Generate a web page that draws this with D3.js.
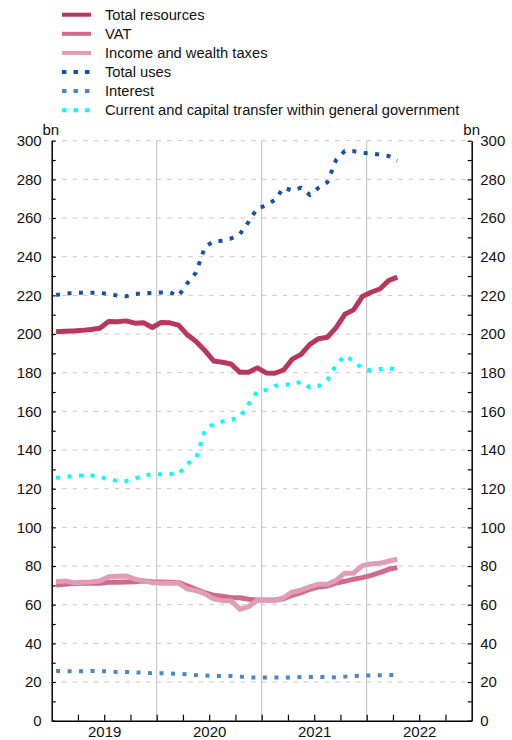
<!DOCTYPE html>
<html><head><meta charset="utf-8">
<script src="https://cdn.jsdelivr.net/npm/d3@7"></script>
<style>
html,body{margin:0;padding:0;background:#fff;}
svg{display:block;font-family:"Liberation Sans",Arial,sans-serif;}
</style></head>
<body><svg id="chart" width="512" height="740"></svg>
<script>
// Monthly observations, Jan 2019 .. Apr 2022 (index 0..39), EUR bn
const months = d3.range(40);
const totalResources = [201.2,201.4,201.6,201.9,202.4,203.0,206.5,206.3,206.8,205.6,205.8,203.4,206.0,205.8,204.6,199.6,196.1,191.5,186.1,185.4,184.5,180.2,180.2,182.5,179.9,179.7,181.4,187.0,189.5,194.7,197.6,198.3,203.3,210.2,212.5,219.4,221.6,223.3,227.6,229.4];
const vat = [70.2,70.6,70.9,71.1,71.1,71.1,71.6,71.6,71.8,71.9,72.3,71.9,71.8,71.6,71.4,69.7,68.0,66.2,64.9,64.4,63.6,63.6,62.8,62.4,62.4,62.4,63.1,64.9,66.2,68.0,69.2,69.7,71.2,72.1,73.2,74.0,75.2,76.6,78.3,79.2];
const incomeWealth = [71.9,72.3,71.4,71.6,71.8,72.3,74.5,74.7,74.9,73.2,72.3,71.4,71.1,71.1,71.1,68.1,67.3,65.7,63.0,62.1,62.1,57.6,59.0,62.3,62.3,62.1,63.6,66.6,67.5,69.2,70.6,70.6,72.6,76.3,76.3,80.2,81.1,81.4,82.5,83.5];
const totalUses = [220.2,220.9,221.3,221.3,221.3,221.3,220.7,219.9,219.5,220.7,221.1,221.3,221.5,221.6,219.7,226.3,231.8,244.9,248.0,248.3,249.4,251.6,258.0,265.1,266.4,269.4,275.7,274.2,275.7,272.0,275.7,278.5,290.0,294.7,294.6,293.7,293.3,292.8,292.1,289.7];
const interest = [25.7,25.6,25.5,25.6,25.7,25.6,25.5,25.2,25.2,25.0,24.8,24.6,24.6,24.4,24.2,24.0,23.6,23.4,23.2,23.1,23.1,22.8,22.4,22.3,22.3,22.3,22.3,22.4,22.6,22.6,22.6,22.6,22.4,22.8,23.1,23.3,23.4,23.5,23.6,23.6];
const transfers = [125.6,126.1,126.6,126.8,126.8,126.1,124.9,124.0,124.0,125.2,126.8,127.5,127.5,127.6,127.5,133.0,135.7,150.2,153.5,154.7,155.7,157.0,163.8,170.4,171.1,173.2,174.0,173.8,175.4,172.3,173.0,176.3,184.0,188.8,186.2,182.1,181.1,181.9,182.5,181.3];
const yearLabels = ["2019","2020","2021","2022"];
const yTicks = d3.range(0, 301, 10);
const seriesNames = ["Total resources","VAT","Income and wealth taxes","Total uses","Interest","Current and capital transfer within general government"];
const unitLabel = "bn";

const series = [
  {name: seriesNames[0], values: totalResources, color: "#b9375c", dotted: false},
  {name: seriesNames[1], values: vat, color: "#d06a8b", dotted: false},
  {name: seriesNames[2], values: incomeWealth, color: "#e19db3", dotted: false},
  {name: seriesNames[3], values: totalUses, color: "#1652a2", dotted: true},
  {name: seriesNames[4], values: interest, color: "#4a86c6", dotted: true},
  {name: seriesNames[5], values: transfers, color: "#00ffff", dotted: true}
];

const svg = d3.select("#chart");
const L = 51.7, R = 471.7, T = 140.7, B = 720.7;
const x = d3.scaleLinear().domain([0, 48]).range([L, R]);
const y = d3.scaleLinear().domain([0, 300]).range([B, T]);

// horizontal dashed grid
svg.append("g").selectAll("line").data(d3.range(20, 301, 20)).join("line")
  .attr("x1", L).attr("x2", R).attr("y1", d => y(d)).attr("y2", d => y(d))
  .attr("stroke", "#c8c8c8").attr("stroke-width", 1).attr("stroke-dasharray", "4.5,6");
// vertical year grid
svg.append("g").selectAll("line").data([12, 24, 36]).join("line")
  .attr("x1", d => x(d)).attr("x2", d => x(d)).attr("y1", T).attr("y2", B)
  .attr("stroke", "#bdbdbd").attr("stroke-width", 1);

// lines
const line = d3.line().x((d, i) => x(months[i] + 0.5)).y(d => y(d));
series.forEach(s => {
  svg.append("path").datum(s.values)
    .attr("d", line).attr("fill", "none").attr("stroke", s.color)
    .attr("stroke-width", s.dotted ? 4 : 5)
    .attr("stroke-linejoin", "round")
    .attr("stroke-dasharray", s.dotted ? "4,7.5" : null);
});

// axes
function styleAxis(g) {
  g.selectAll(".domain").attr("stroke", "#000").attr("stroke-width", 1.5);
  g.selectAll(".tick line").attr("stroke", "#000").attr("stroke-width", 1.2);
  g.selectAll("text").attr("font-size", 15).attr("fill", "#111")
    .attr("font-family", "'Liberation Sans',Arial,sans-serif");
}
const fmtY = d => (d % 20 === 0 ? d : "");
svg.append("g").attr("transform", `translate(${L},0)`)
  .call(d3.axisLeft(y).tickValues(yTicks).tickSize(-4).tickPadding(10).tickFormat(fmtY).tickSizeOuter(0))
  .call(styleAxis);
svg.append("g").attr("transform", `translate(${R},0)`)
  .call(d3.axisRight(y).tickValues(yTicks).tickSize(-4).tickPadding(8.5).tickFormat(fmtY).tickSizeOuter(0))
  .call(styleAxis);
svg.append("g").attr("transform", `translate(0,${B})`)
  .call(d3.axisBottom(x).tickValues(d3.range(3, 48, 3)).tickSize(-6).tickFormat("").tickSizeOuter(0))
  .call(styleAxis);
const yearAxis = svg.append("g").attr("transform", `translate(0,${B})`)
  .call(d3.axisBottom(x).tickValues([6, 18, 30, 42]).tickSize(0).tickPadding(6)
    .tickFormat((d, i) => yearLabels[i]).tickSizeOuter(0))
  .call(styleAxis);
yearAxis.select(".domain").remove();

// unit labels
svg.append("text").attr("x", 42.5).attr("y", 135).attr("font-size", 15).attr("fill", "#111").text(unitLabel);
svg.append("text").attr("x", 480).attr("y", 135).attr("font-size", 15).attr("fill", "#111").attr("text-anchor", "end").text(unitLabel);

// legend
const lg = svg.append("g");
series.forEach((s, i) => {
  const yy = 14.7 + i * 19.1;
  lg.append("line").attr("x1", 62).attr("x2", 91).attr("y1", yy).attr("y2", yy)
    .attr("stroke", s.color).attr("stroke-width", 4)
    .attr("stroke-dasharray", s.dotted ? "4.5,7" : null);
  lg.append("text").attr("x", 105).attr("y", yy).attr("dy", "0.36em")
    .attr("font-size", 14.7).attr("fill", "#111").text(s.name);
});
</script></body></html>
